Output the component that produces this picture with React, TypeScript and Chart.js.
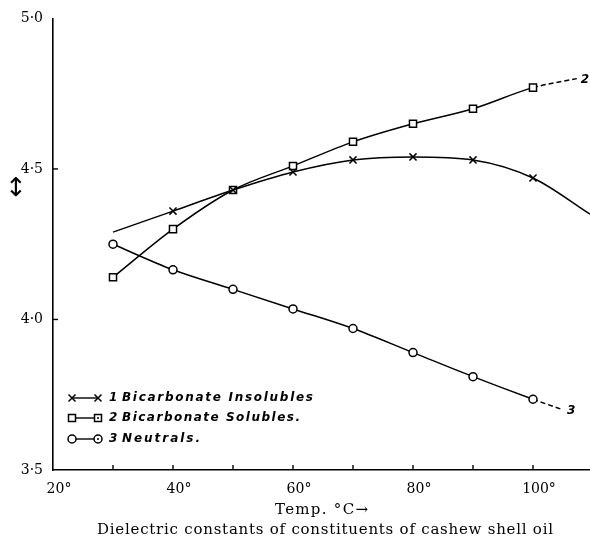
import React, { useEffect, useRef } from 'react';
import { Chart, registerables } from 'chart.js';

Chart.register(...registerables);

// ---- data ----
const tempInsolubles = [30, 40, 50, 60, 70, 80, 90, 100, 109.5];
const valInsolubles = [4.29, 4.36, 4.43, 4.49, 4.53, 4.54, 4.53, 4.47, 4.35];
const markInsolubles = [false, true, true, true, true, true, true, true, false];

const tempSolubles = [30, 40, 50, 60, 70, 80, 90, 100, 107.3];
const valSolubles = [4.14, 4.3, 4.43, 4.51, 4.59, 4.65, 4.7, 4.77, 4.8];

const tempNeutrals = [30, 40, 50, 60, 70, 80, 90, 100, 105];
const valNeutrals = [4.25, 4.165, 4.1, 4.035, 3.97, 3.89, 3.81, 3.735, 3.7];

const xTickValues = [20, 30, 40, 50, 60, 70, 80, 90, 100];
const xLabelValues = [20, 40, 60, 80, 100];
const xLabelTexts = ['20°', '40°', '60°', '80°', '100°'];
const yTickValues = [3.5, 4.0, 4.5, 5.0];
const yLabelTexts = ['3·5', '4·0', '4·5', '5·0'];

const seriesNumbers = ['1', '2', '3'];
const seriesNames = ['Bicarbonate Insolubles', 'Bicarbonate Solubles.', 'Neutrals.'];
const endLabels = ['', '2', '3'];
const xTitle = 'Temp. °C→';
const yArrow = '↕';
const caption = 'Dielectric constants of constituents of cashew shell oil';

// legend text widths measured on the reference (layout only)
const legendTextWidths = [191, 178, 78];

function drawMarker(ctx: CanvasRenderingContext2D, style: string, x: number, y: number, dot = false) {
  ctx.save();
  ctx.lineWidth = 1.5;
  ctx.strokeStyle = '#000';
  ctx.fillStyle = '#fff';
  if (style === 'cross') {
    const d = 3.5;
    ctx.beginPath();
    ctx.moveTo(x - d, y - d); ctx.lineTo(x + d, y + d);
    ctx.moveTo(x - d, y + d); ctx.lineTo(x + d, y - d);
    ctx.stroke();
  } else if (style === 'rect') {
    const s = 3.5;
    ctx.beginPath();
    ctx.rect(x - s, y - s, 2 * s, 2 * s);
    ctx.fill(); ctx.stroke();
  } else {
    ctx.beginPath();
    ctx.arc(x, y, 4, 0, Math.PI * 2);
    ctx.fill(); ctx.stroke();
  }
  if (dot) {
    ctx.fillStyle = '#000';
    ctx.beginPath();
    ctx.arc(x, y, 1, 0, Math.PI * 2);
    ctx.fill();
  }
  ctx.restore();
}

function fitTextLeft(ctx: CanvasRenderingContext2D, text: string, left: number, cy: number, target: number) {
  (ctx as any).letterSpacing = '0px';
  const w = ctx.measureText(text).width;
  const ls = Math.max(0, (target - w) / Math.max(1, text.length - 1));
  (ctx as any).letterSpacing = ls + 'px';
  ctx.textAlign = 'left';
  ctx.fillText(text, left, cy);
  (ctx as any).letterSpacing = '0px';
}

function fitText(ctx: CanvasRenderingContext2D, text: string, cx: number, cy: number, target: number) {
  fitTextLeft(ctx, text, cx - target / 2, cy, target);
}

const decorPlugin = {
  id: 'decor',
  afterDraw(chart: any) {
    const { ctx, chartArea, scales } = chart;
    const x = scales.x;
    const y = scales.y;
    ctx.save();
    ctx.strokeStyle = '#000';
    ctx.fillStyle = '#000';
    ctx.lineWidth = 1.4;
    // inner tick marks
    xTickValues.forEach((v) => {
      if (v === x.min) return;
      const px = x.getPixelForValue(v);
      ctx.beginPath();
      ctx.moveTo(px, chartArea.bottom);
      ctx.lineTo(px, chartArea.bottom - 5);
      ctx.stroke();
    });
    yTickValues.forEach((v) => {
      if (v === y.min || v === y.max) return;
      const py = y.getPixelForValue(v);
      ctx.beginPath();
      ctx.moveTo(chartArea.left, py);
      ctx.lineTo(chartArea.left + 5, py);
      ctx.stroke();
    });

    // legend
    const styles = ['cross', 'rect', 'circle'];
    const rowY = [chartArea.bottom - 72, chartArea.bottom - 52, chartArea.bottom - 31];
    const x0 = chartArea.left + 19;
    const x1 = chartArea.left + 45;
    styles.forEach((st, i) => {
      const ry = rowY[i];
      ctx.lineWidth = 1.4;
      ctx.beginPath();
      ctx.moveTo(x0, ry);
      ctx.lineTo(x1, ry);
      ctx.stroke();
      drawMarker(ctx, st, x0, ry);
      drawMarker(ctx, st, x1, ry, i > 0);
      ctx.fillStyle = '#000';
      ctx.textBaseline = 'middle';
      ctx.font = 'italic bold 12px "DejaVu Sans"';
      ctx.textAlign = 'left';
      ctx.fillText(seriesNumbers[i], chartArea.left + 56, ry);
      fitTextLeft(ctx, seriesNames[i], chartArea.left + 69, ry, legendTextWidths[i]);
    });

    // end labels for dashed extensions
    endLabels.forEach((t, i) => {
      if (!t) return;
      const meta = chart.getDatasetMeta(i);
      const pt = meta.data[meta.data.length - 1];
      ctx.font = 'italic bold 12px "DejaVu Sans"';
      ctx.textAlign = 'left';
      ctx.textBaseline = 'middle';
      ctx.fillText(t, pt.x + 4, pt.y + 1);
    });

    // y arrow
    ctx.font = '26px "DejaVu Sans"';
    ctx.textAlign = 'center';
    ctx.textBaseline = 'middle';
    ctx.fillText(yArrow, 16, y.getPixelForValue(4.5) + 20);

    // x title and caption
    ctx.textBaseline = 'middle';
    ctx.font = '15px "DejaVu Serif"';
    fitText(ctx, xTitle, (chartArea.left + chartArea.right) / 2, chartArea.bottom + 40, 93);
    ctx.font = '15px "DejaVu Serif"';
    fitText(ctx, caption, 325, chartArea.bottom + 60, 456);
    ctx.restore();
  },
};

function makeSet(label: string, xs: number[], ys: number[], style: string, radius: any, dashedLast: boolean) {
  const n = xs.length;
  return {
    label,
    data: xs.map((v, i) => ({ x: v, y: ys[i] })),
    borderColor: '#000',
    borderWidth: 1.5,
    pointStyle: style,
    pointRadius: radius,
    pointBorderWidth: 1.5,
    pointBorderColor: '#000',
    pointBackgroundColor: '#fff',
    cubicInterpolationMode: 'monotone',
    fill: false,
    segment: {
      borderDash: (c: any) => (dashedLast && c.p1DataIndex === n - 1 ? [5, 3] : undefined),
    },
  };
}

export default function App() {
  const ref = useRef<HTMLCanvasElement | null>(null);
  useEffect(() => {
    if (!ref.current) return;
    const chart = new Chart(ref.current, {
      type: 'line',
      data: {
        datasets: [
          makeSet(seriesNames[0], tempInsolubles, valInsolubles, 'crossRot', markInsolubles.map((m) => (m ? 5 : 0)), false),
          makeSet(seriesNames[1], tempSolubles, valSolubles, 'rect', tempSolubles.map((_, i) => (i === tempSolubles.length - 1 ? 0 : 5)), true),
          makeSet(seriesNames[2], tempNeutrals, valNeutrals, 'circle', tempNeutrals.map((_, i) => (i === tempNeutrals.length - 1 ? 0 : 4)), true),
        ] as any,
      },
      options: {
        animation: false,
        responsive: false,
        layout: { autoPadding: false, padding: { top: 18, left: 0, right: 0, bottom: 25 } },
        plugins: { legend: { display: false }, tooltip: { enabled: false }, title: { display: false } },
        scales: {
          x: {
            type: 'linear',
            min: 20,
            max: 109.5,
            afterBuildTicks: (a: any) => {
              a.ticks = xTickValues.map((value) => ({ value }));
            },
            afterFit: (a: any) => {
              a.height = 49;
            },
            grid: { display: false, drawTicks: false },
            border: { display: true, color: '#000', width: 1.6 },
            ticks: {
              autoSkip: false,
              maxRotation: 0,
              padding: 11,
              labelOffset: 6,
              color: '#000',
              font: { family: 'DejaVu Serif', size: 14 },
              callback: (v: any) => {
                const i = xLabelValues.indexOf(Number(v));
                return i >= 0 ? xLabelTexts[i] : '';
              },
            },
          },
          y: {
            type: 'linear',
            min: 3.5,
            max: 5.0,
            afterBuildTicks: (a: any) => {
              a.ticks = yTickValues.map((value) => ({ value }));
            },
            afterFit: (a: any) => {
              a.width = 53;
            },
            grid: { display: false, drawTicks: false },
            border: { display: true, color: '#000', width: 1.6 },
            ticks: {
              padding: 10,
              color: '#000',
              font: { family: 'DejaVu Serif', size: 14 },
              callback: (v: any) => {
                const i = yTickValues.indexOf(Number(v));
                return i >= 0 ? yLabelTexts[i] : '';
              },
            },
          },
        },
      } as any,
      plugins: [decorPlugin],
    });
    return () => chart.destroy();
  }, []);
  return (
    <div style={{ position: 'absolute', left: 0, top: 0, width: 590, height: 544, background: '#fff' }}>
      <canvas ref={ref} width={590} height={544} style={{ width: 590, height: 544, display: 'block' }} />
    </div>
  );
}
